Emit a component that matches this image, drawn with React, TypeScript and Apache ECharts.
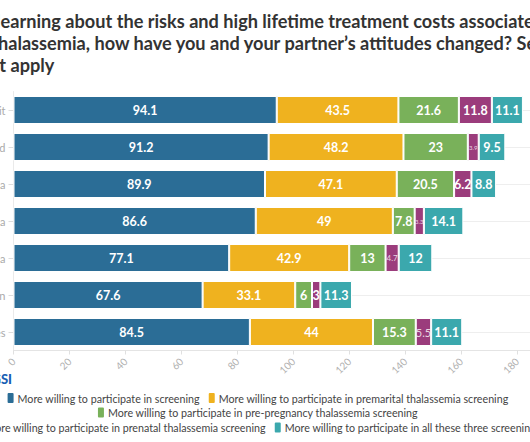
import React, { useEffect, useRef } from "react";
import * as echarts from "echarts";

const categories = [
  "Total visit",
  "Married",
  "Hanoi area",
  "Central area",
  "Southern area",
  "Rural region",
  "Minorities",
];

const seriesNames = [
  "More willing to participate in screening",
  "More willing to participate in premarital thalassemia screening",
  "More willing to participate in pre-pregnancy thalassemia screening",
  "More willing to participate in prenatal thalassemia screening",
  "More willing to participate in all these three screenings",
];

const screening = [94.1, 91.2, 89.9, 86.6, 77.1, 67.6, 84.5];
const premarital = [43.5, 48.2, 47.1, 49, 42.9, 33.1, 44];
const prePregnancy = [21.6, 23, 20.5, 7.8, 13, 6, 15.3];
const prenatal = [11.8, 3.9, 6.2, 3.3, 4.7, 3, 5.5];
const allThree = [11.1, 9.5, 8.8, 14.1, 12, 11.3, 11.1];

const xTicks = [0, 20, 40, 60, 80, 100, 120, 140, 160, 180, 200];

const titleLines = [
  "After learning about the risks and high lifetime treatment costs associated",
  "with thalassemia, how have you and your partner\u2019s attitudes changed? Select",
  "all that apply",
];

const colors = ["#2b6d96", "#efb21f", "#79b15a", "#9b3c7c", "#3ba8ad"];

const FONT = "Lato";
const CHART_W = 700;
const OFFSET = 93;
const TITLE_SIZE = 18.15;

function measure(text: string, font: string): number {
  const c = document.createElement("canvas").getContext("2d");
  if (!c) return 0;
  c.font = font;
  return c.measureText(text).width;
}

export default function App() {
  const ref = useRef<HTMLDivElement>(null);
  useEffect(() => {
    if (!ref.current) return;
    const chart = echarts.init(ref.current, undefined, { renderer: "svg" });

    const prefixW = measure("After l", `bold ${TITLE_SIZE}px ${FONT}`) || 44;

    // fit legend font size to reference row width
    const lw12 = measure(seriesNames[2], `12px ${FONT}`) || 311;
    const legendSize = Math.round(((12 * 311) / lw12) * 10) / 10;

    const allSeries = [screening, premarital, prePregnancy, prenatal, allThree];

    const labelFor = (v: number) => {
      const txt = String(v);
      if (v < 6 && txt.length > 1) {
        const size = v < 4 ? 6 : v < 5 ? 8 : 11;
        return { fontSize: size, fontWeight: "normal" as const, color: "rgba(255,255,255,0.8)" };
      }
      return {};
    };

    chart.setOption({
      animation: false,
      title: {
        text: titleLines.join("\n"),
        left: OFFSET - prefixW + 1,
        top: 10,
        padding: 0,
        textStyle: {
          fontFamily: FONT,
          fontSize: TITLE_SIZE,
          fontWeight: "bold",
          color: "#333",
          lineHeight: 22,
        },
      },
      grid: {
        left: OFFSET + 13.5,
        right: CHART_W - (OFFSET + 573),
        top: 91.5,
        bottom: 91.5,
        containLabel: false,
      },
      legend: [
        { data: [seriesNames[0], seriesNames[1]], top: 391 },
        { data: [seriesNames[2]], top: 405.5 },
        { data: [seriesNames[3], seriesNames[4]], top: 420.5 },
      ].map((l) => ({
        ...l,
        left: "center",
        padding: 0,
        itemWidth: 8,
        itemHeight: 12,
        itemGap: 7,
        icon: "roundRect",
        textStyle: {
          fontFamily: FONT,
          fontSize: legendSize,
          color: "#444",
          padding: [0, 0, 0, -2],
        },
      })),
      graphic: [
        {
          type: "text",
          x: OFFSET + 12,
          y: 379,
          style: {
            text: "GSI",
            align: "right",
            verticalAlign: "middle",
            fontFamily: FONT,
            fontSize: 13,
            fontWeight: 900,
            fill: "#1a5fb4",
          },
        },
      ],
      xAxis: {
        type: "value",
        min: xTicks[0],
        max: xTicks[xTicks.length - 1],
        interval: 20,
        axisLine: { show: true, lineStyle: { color: "#e4e4e4" } },
        axisTick: { show: true, length: 4, lineStyle: { color: "#e0e0e0" } },
        splitLine: { show: false },
        axisLabel: {
          rotate: 45,
          margin: 9,
          color: "#b0b0b0",
          fontFamily: FONT,
          fontSize: 10,
        },
      },
      yAxis: {
        type: "category",
        data: categories,
        inverse: true,
        axisLine: { show: true, lineStyle: { color: "#eaeaea" } },
        axisTick: { show: true, alignWithLabel: true, length: 5, lineStyle: { color: "#dddddd" } },
        splitLine: { show: true, alignWithLabel: true, lineStyle: { color: "#eeeeee" } },
        axisLabel: { color: "#aaa", fontFamily: FONT, fontSize: 11, margin: 8 },
      },
      series: allSeries.map((arr, i) => ({
        type: "bar",
        name: seriesNames[i],
        stack: "total",
        barWidth: 28,
        itemStyle: { color: colors[i], borderColor: "#fff", borderWidth: 1 },
        label: {
          show: true,
          position: "inside",
          color: "#fff",
          fontFamily: FONT,
          fontWeight: "bold",
          fontSize: 12.5,
        },
        data: arr.map((v) => ({ value: v, label: labelFor(v) })),
      })),
    });
    return () => chart.dispose();
  }, []);

  return (
    <div
      style={{
        position: "absolute",
        left: 0,
        top: 0,
        width: 530,
        height: 442,
        overflow: "hidden",
        background: "#fff",
      }}
    >
      <div
        ref={ref}
        style={{ position: "absolute", left: -OFFSET, top: 0, width: CHART_W, height: 442 }}
      />
    </div>
  );
}
